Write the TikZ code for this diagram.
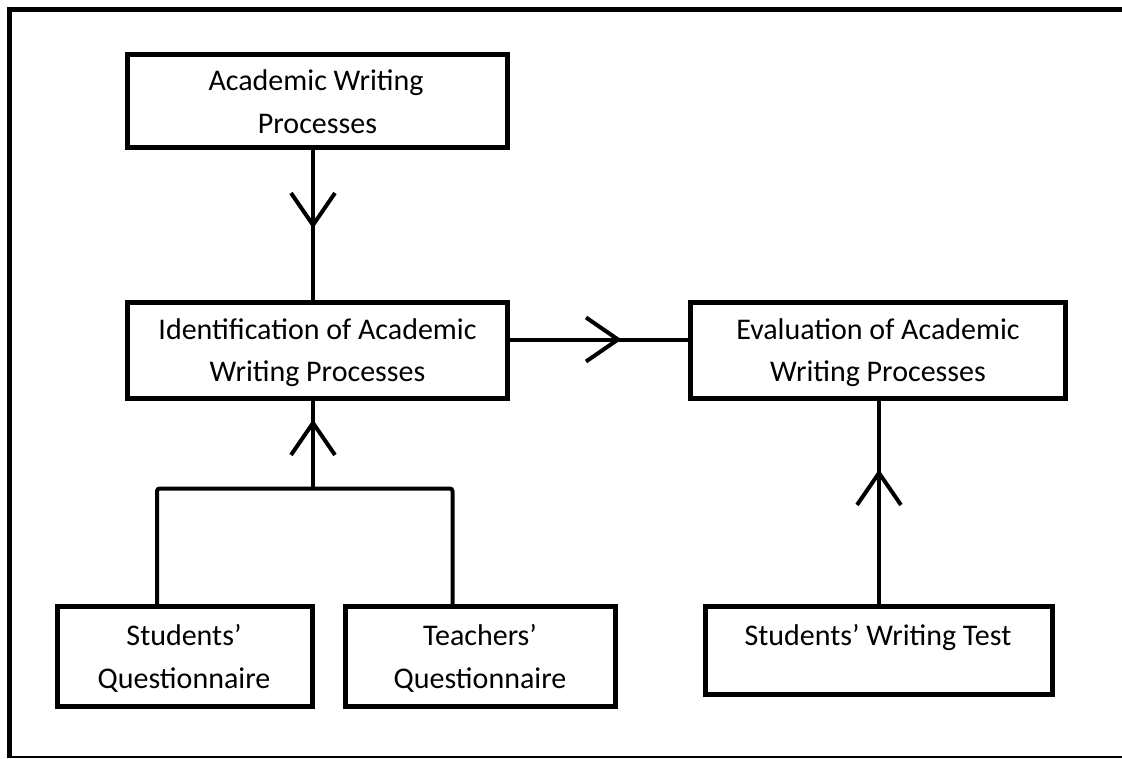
\documentclass[tikz,border=0pt]{standalone}
\usepackage{fontspec}
\setmainfont{Carlito}
\usetikzlibrary{decorations.markings,calc}
\begin{document}
\begin{tikzpicture}[x=0.75pt,y=-0.75pt,
  frame/.style={draw=black, line width=3.75pt, line cap=butt, line join=miter},
  box/.style={draw=black, line width=3.75pt, rectangle, inner sep=0pt, outer sep=0pt},
  txt/.style={anchor=base, inner sep=0pt, font=\fontsize{22.5}{32}\selectfont, text=black},
  conn/.style={draw=black, line width=3pt},
  barb/.style={draw=black, line width=3pt, line cap=butt, line join=miter},
  midarrow/.style={postaction={decorate}, decoration={markings,
      mark=at position #1 with {\draw[barb] (-32,22) -- (0,0) -- (-32,-22);}}}
]
\useasboundingbox (0,0) rectangle (1122,758);
\fill[white] (0,0) rectangle (1122,758);
% outer frame (right side and lower part cut off by the picture edge)
\draw[frame] (1122,9.5) -- (9.5,9.5) -- (9.5,758);
\draw[draw=black, line width=1.2pt, line cap=butt] (7,757.2) -- (1122,757.2);

% boxes
\node[box, minimum width={380*0.75pt}, minimum height={93*0.75pt}] (awp) at (317.5,101) {};
\node[box, minimum width={380*0.75pt}, minimum height={96*0.75pt}] (idf) at (317.5,350.5) {};
\node[box, minimum width={375*0.75pt}, minimum height={96*0.75pt}] (evl) at (878,350.5) {};
\node[box, minimum width={255*0.75pt}, minimum height={100*0.75pt}] (sq) at (185,656.5) {};
\node[box, minimum width={270*0.75pt}, minimum height={100*0.75pt}] (tq) at (480.5,656.5) {};
\node[box, minimum width={347*0.75pt}, minimum height={88*0.75pt}] (wt) at (879,650.5) {};

% texts
\node[txt] (awp1) at (316,90.5) {Academic Writing};
\node[txt] (awp2) at (317.5,133) {Processes};
\node[txt] (idf1) at (317.5,339) {Identification of Academic};
\node[txt] (idf2) at (317.5,381) {Writing Processes};
\node[txt] (evl1) at (878,339) {Evaluation of Academic};
\node[txt] (evl2) at (878,381) {Writing Processes};
\node[txt] (sq1) at (184,645) {Students’};
\node[txt] (sq2) at (184,688) {Questionnaire};
\node[txt] (tq1) at (480,645) {Teachers’};
\node[txt] (tq2) at (480,688) {Questionnaire};
\node[txt] (wt1) at (878,645) {Students’ Writing Test};

% helper coordinates
\coordinate (xa) at (313,0);
\coordinate (ya) at (0,339.5);
\coordinate (jn) at (313,488.5);

% connectors
\draw[conn, midarrow=0.5] (awp.south -| xa) -- (idf.north -| xa);
\draw[conn, midarrow=0.604] (idf.east |- ya) -- (evl.west |- ya);
\draw[conn, rounded corners=2pt] ($(sq.north)+(-28,0)$) |- (jn) -| ($(tq.north)+(-28,0)$);
\draw[conn, midarrow=0.728] (jn) -- (idf.south -| jn);
\draw[conn, midarrow=0.642] (wt.north) -- (wt.north |- evl.south);
\end{tikzpicture}
\end{document}
